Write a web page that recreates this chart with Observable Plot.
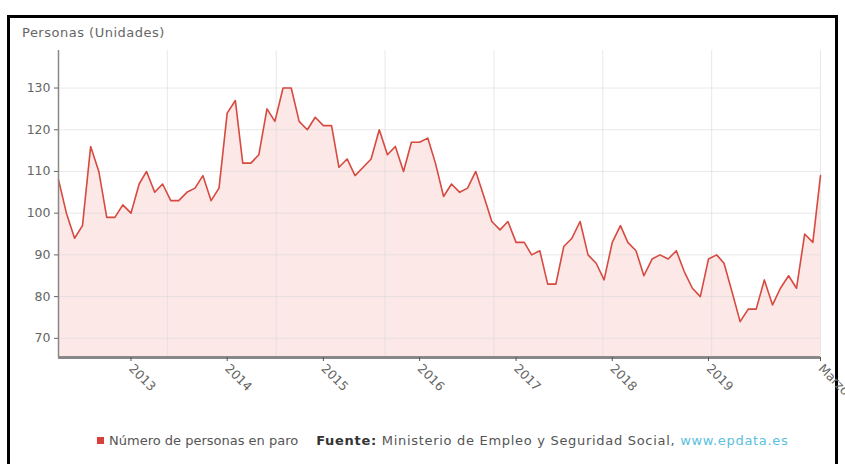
<!DOCTYPE html>
<html>
<head>
<meta charset="utf-8">
<script src="https://cdn.jsdelivr.net/npm/d3@7"></script>
<script src="https://cdn.jsdelivr.net/npm/@observablehq/plot@0.6"></script>
<style>
  html, body { margin: 0; padding: 0; background: #fff; }
  body { width: 845px; height: 464px; position: relative; overflow: hidden; font-family: "DejaVu Sans", Verdana, sans-serif; }
  #frame { position: absolute; left: 7px; top: 15px; width: 831px; height: 460px; border: 3px solid #000; box-sizing: border-box; }
  #title { position: absolute; left: 22px; top: 25px; font-size: 13px; letter-spacing: 0.5px; color: #666; }
  #chart { position: absolute; left: 0; top: 0; }
  #legend { position: absolute; left: 97px; top: 433px; font-size: 13px; color: #555; white-space: nowrap; }
  #legend .sw { display: inline-block; width: 7px; height: 7px; background: #d9403a; margin-right: 5px; vertical-align: 1px; }
  #legend b { color: #333; }
  #legend .src { margin-left: 18px; letter-spacing: 0.7px; }
  #legend a { color: #5bc0de; text-decoration: none; }
</style>
</head>
<body>
<div id="frame"></div>
<div id="chart"></div>
<div id="title">Personas (Unidades)</div>
<div id="legend"><span class="sw"></span>Número de personas en paro<span class="src"><b>Fuente:</b> Ministerio de Empleo y Seguridad Social, <a>www.epdata.es</a></span></div>
<script>
// Monthly series, April 2012 – March 2020
const startMonth = "2012-04-01";
const values = [
  108, 100, 94, 97, 116, 110, 99, 99, 102, 100, 107, 110,
  105, 107, 103, 103, 105, 106, 109, 103, 106, 124, 127, 112,
  112, 114, 125, 122, 130, 130, 122, 120, 123, 121, 121, 111,
  113, 109, 111, 113, 120, 114, 116, 110, 117, 117, 118, 112,
  104, 107, 105, 106, 110, 104, 98, 96, 98, 93, 93, 90,
  91, 83, 83, 92, 94, 98, 90, 88, 84, 93, 97, 93,
  91, 85, 89, 90, 89, 91, 86, 82, 80, 89, 90, 88,
  81, 74, 77, 77, 84, 78, 82, 85, 82, 95, 93, 109
];
const yTicks = [70, 80, 90, 100, 110, 120, 130];
const xTickDates = ["2013-01-01", "2014-01-01", "2015-01-01", "2016-01-01", "2017-01-01", "2018-01-01", "2019-01-01", "2020-03-01"];
const xTickLabels = ["2013", "2014", "2015", "2016", "2017", "2018", "2019", "Marzo"];
const yDomain = [65.4, 139];

const start = new Date(startMonth);
const data = values.map((v, i) => ({
  date: d3.utcMonth.offset(start, i),
  value: v
}));
const xDomain = [data[0].date, data[data.length - 1].date];
const tickDates = xTickDates.map(d => new Date(d));
const labelMap = new Map(tickDates.map((d, i) => [+d, xTickLabels[i]]));
// vertical grid: plot split in 7 equal parts
const t0 = +xDomain[0], t1 = +xDomain[1];
const vGrid = d3.range(1, 8).map(k => new Date(t0 + (t1 - t0) * k / 7));

const chart = Plot.plot({
  width: 845,
  height: 420,
  marginLeft: 58,
  marginRight: 25,
  marginTop: 50,
  marginBottom: 63,
  style: { fontFamily: "DejaVu Sans, Verdana, sans-serif", fontSize: "12.5px", color: "#666", background: "transparent" },
  x: { type: "utc", domain: xDomain },
  y: { domain: yDomain },
  marks: [
    Plot.areaY(data, { x: "date", y1: yDomain[0], y2: "value", fill: "#fde6e6", fillOpacity: 0.9 }),
    Plot.ruleY(yTicks, { stroke: "#d8d8d8", strokeOpacity: 0.6, strokeWidth: 1 }),
    Plot.ruleX(vGrid, { stroke: "#d8d8d8", strokeOpacity: 0.6, strokeWidth: 1 }),
    Plot.lineY(data, { x: "date", y: "value", stroke: "#d64a40", strokeWidth: 1.6 }),
    Plot.ruleX([xDomain[0]], { stroke: "#888", strokeWidth: 1.5 }),
    Plot.ruleY([yDomain[0]], { stroke: "#888", strokeWidth: 3 }),
    Plot.axisY({ ticks: yTicks, tickSize: 4, tickPadding: 4, label: null, stroke: "#666", fill: "#666" }),
    Plot.axisX({ ticks: tickDates, tickFormat: d => labelMap.get(+d), tickRotate: 45, tickSize: 4, tickPadding: 5, label: null, stroke: "#555", fill: "#666" })
  ]
});
document.getElementById("chart").appendChild(chart);
</script>
</body>
</html>
